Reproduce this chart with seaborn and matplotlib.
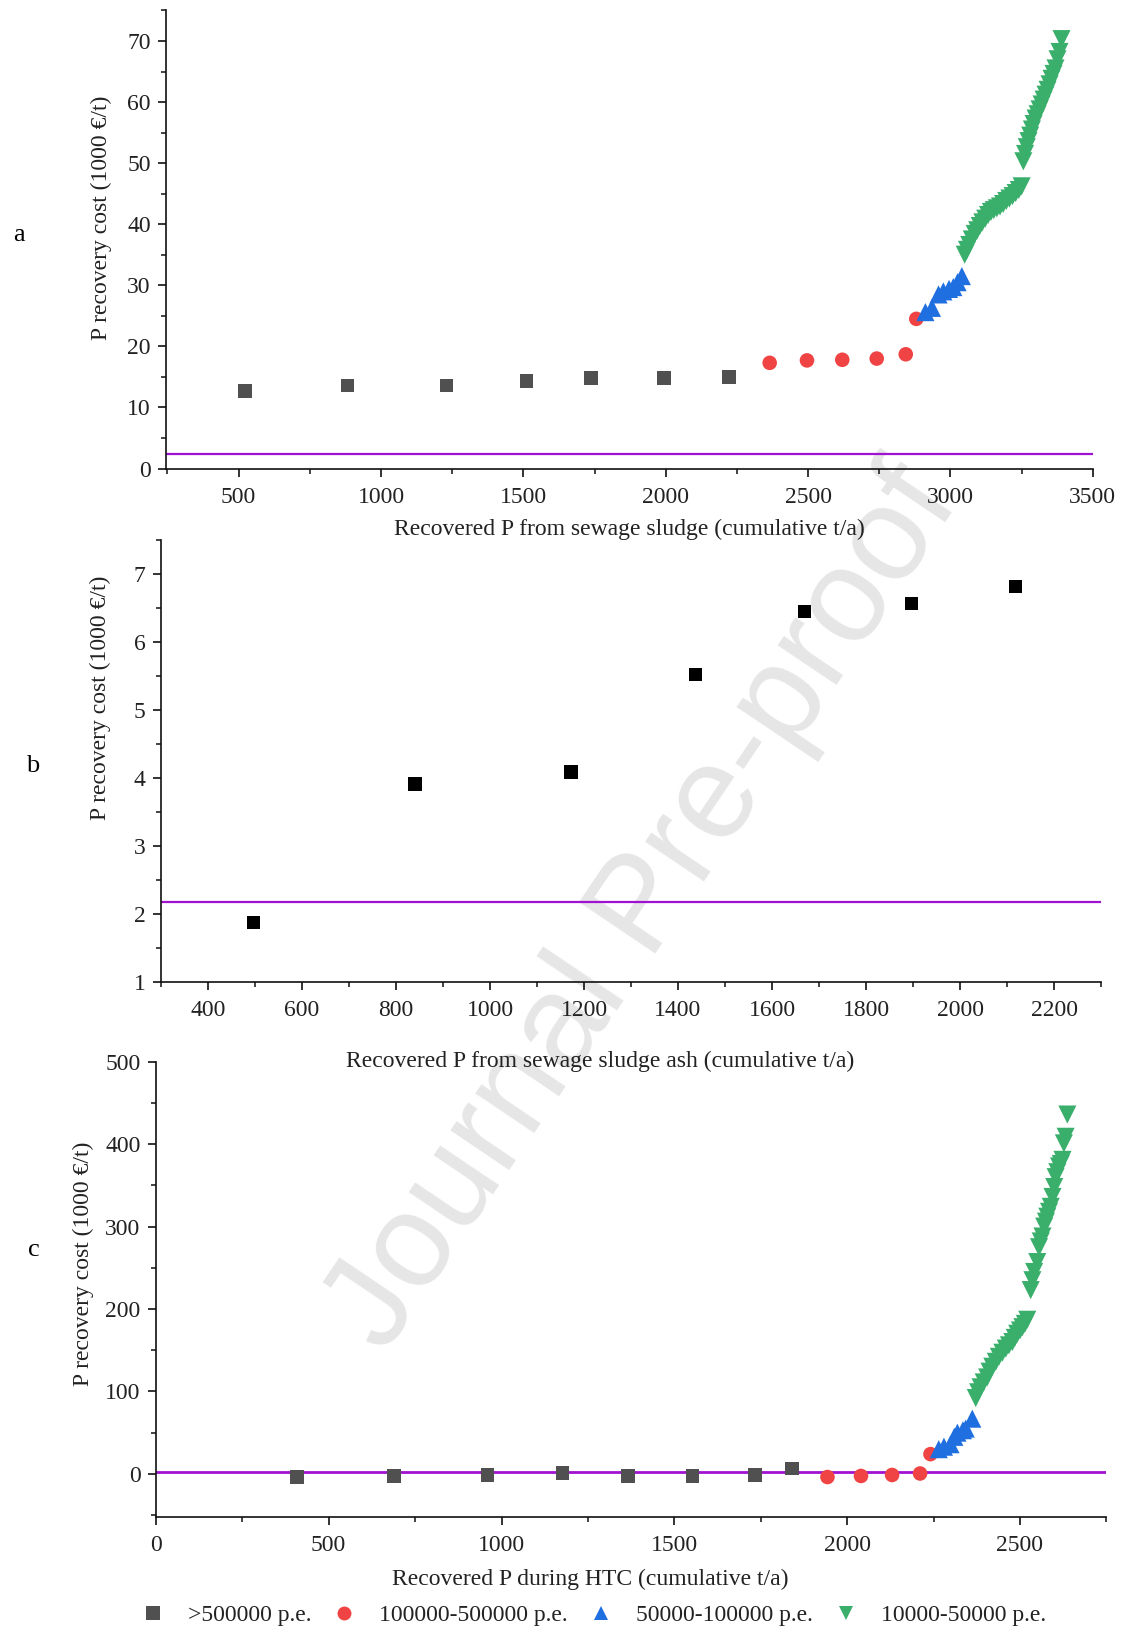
import numpy as np
import pandas as pd
import matplotlib
matplotlib.use('Agg')
import matplotlib.pyplot as plt
from matplotlib.ticker import MultipleLocator
from matplotlib.lines import Line2D
import seaborn as sns

sns.set_style('ticks')
plt.rcParams['font.family'] = ['Liberation Serif', 'DejaVu Serif']

# size classes of the plants
classes = ['>500000 p.e.', '100000-500000 p.e.', '50000-100000 p.e.', '10000-50000 p.e.']

# --- panel a: sewage sludge ---
a_sq_x = [522, 883, 1230, 1511, 1737, 1993, 2223]
a_sq_y = [12.7, 13.6, 13.6, 14.3, 14.8, 14.8, 15.0]
a_red_x = [2365, 2496, 2620, 2741, 2843, 2880]
a_red_y = [17.3, 17.7, 17.8, 18.0, 18.7, 24.5]
a_blue_x = [2912, 2935, 2958, 2975, 2995, 3010, 3025, 3040]
a_blue_y = [25.6, 26.3, 28.5, 29.0, 29.4, 29.7, 30.5, 31.5]
a_green_x = [3050, 3058, 3066, 3075, 3085, 3094, 3103, 3112, 3122, 3132, 3142,
             3152, 3163, 3174, 3185, 3196, 3207, 3218, 3229, 3240, 3250, 3256,
             3262, 3268, 3274, 3280, 3286, 3292, 3299, 3306, 3313, 3320, 3327,
             3334, 3341, 3348, 3355, 3362, 3369, 3376, 3383, 3390]
a_green_y = [35.0, 35.8, 36.6, 37.5, 38.4, 39.0, 39.7, 40.3, 40.9, 41.5, 42.0,
             42.3, 42.6, 42.9, 43.3, 43.8, 44.2, 44.6, 45.1, 45.6, 46.2, 50.3,
             51.5, 52.6, 53.6, 54.5, 55.5, 56.4, 57.3, 58.0, 58.8, 59.6, 60.4,
             61.2, 62.0, 62.9, 63.8, 64.6, 65.5, 67.0, 68.2, 70.3]
a_limit = 2.4

# --- panel b: sewage sludge ash ---
b_x = [497, 840, 1172, 1437, 1669, 1897, 2118]
b_y = [1.87, 3.91, 4.09, 5.52, 6.45, 6.57, 6.82]
b_limit = 2.18

# --- panel c: HTC ---
c_sq_x = [409, 689, 960, 1176, 1366, 1552, 1733, 1841]
c_sq_y = [-3.8, -2.5, -1.3, 1.3, -2.5, -2.5, -1.3, 6.3]
c_red_x = [1943, 2040, 2130, 2211, 2241]
c_red_y = [-3.8, -2.5, -1.3, 0.5, 24]
c_blue_x = [2265, 2280, 2299, 2310, 2319, 2335, 2343, 2362]
c_blue_y = [30, 33, 36, 45, 50, 53, 55, 67]
c_green_x = [2372, 2379, 2386, 2395, 2405, 2412, 2420, 2430, 2439, 2449, 2459,
             2468, 2478, 2485, 2492, 2500, 2507, 2514, 2521, 2531, 2536, 2541,
             2550, 2555, 2560, 2565, 2570, 2575, 2579, 2584, 2589, 2594, 2599,
             2603, 2608, 2613, 2618, 2623, 2627, 2632, 2637]
c_green_y = [92, 99, 105, 111, 117, 124, 130, 136, 142, 147, 152,
             156, 160, 165, 170, 174, 178, 182, 187, 223, 235, 245,
             257, 275, 282, 288, 300, 306, 312, 318, 324, 336, 348,
             360, 366, 373, 376, 381, 401, 409, 436]
c_limit = 2.3

palette = dict(zip(classes, ['#505050', '#f04444', '#1f6fe0', '#3aaf6c']))
markers = dict(zip(classes, ['s', 'o', '^', 'v']))
sizes = dict(zip(classes, [95, 110, 170, 170]))
purple = '#a012d0'
txt = '#222222'


def make_df(xs, ys):
    parts = []
    for cls, x, y in zip(classes, xs, ys):
        parts.append(pd.DataFrame({'x': x, 'y': y, 'cls': cls}))
    return pd.concat(parts, ignore_index=True)


df_a = make_df([a_sq_x, a_red_x, a_blue_x, a_green_x], [a_sq_y, a_red_y, a_blue_y, a_green_y])
df_c = make_df([c_sq_x, c_red_x, c_blue_x, c_green_x], [c_sq_y, c_red_y, c_blue_y, c_green_y])
df_b = pd.DataFrame({'x': b_x, 'y': b_y})

fig = plt.figure(figsize=(11.22, 16.29), dpi=100)
ax_a = fig.add_axes([0.148, 0.7124, 0.826, 0.2812])
ax_b = fig.add_axes([0.1435, 0.3973, 0.8378, 0.2711])
ax_c = fig.add_axes([0.1389, 0.0689, 0.8472, 0.2793])

for ax, df in [(ax_a, df_a), (ax_c, df_c)]:
    sns.scatterplot(data=df, x='x', y='y', hue='cls', style='cls', size='cls',
                    palette=palette, markers=markers, sizes=sizes,
                    hue_order=classes, style_order=classes, size_order=classes,
                    edgecolor='none', linewidth=0, legend=False, ax=ax, zorder=3)

sns.scatterplot(data=df_b, x='x', y='y', marker='s', color='black', s=95,
                edgecolor='none', linewidth=0, ax=ax_b, zorder=3)

ax_a.axhline(a_limit, color=purple, lw=1.6, zorder=2)
ax_b.axhline(b_limit, color=purple, lw=1.6, zorder=2)
ax_c.axhline(c_limit, color=purple, lw=2.0, zorder=2)

ax_a.set_xlim(245, 3500)
ax_a.set_ylim(0, 75)
ax_a.xaxis.set_major_locator(MultipleLocator(500))
ax_a.xaxis.set_minor_locator(MultipleLocator(250))
ax_a.yaxis.set_major_locator(MultipleLocator(10))
ax_a.yaxis.set_minor_locator(MultipleLocator(5))

ax_b.set_xlim(300, 2300)
ax_b.set_ylim(1, 7.5)
ax_b.xaxis.set_major_locator(MultipleLocator(200))
ax_b.xaxis.set_minor_locator(MultipleLocator(100))
ax_b.yaxis.set_major_locator(MultipleLocator(1))
ax_b.yaxis.set_minor_locator(MultipleLocator(0.5))

ax_c.set_xlim(0, 2750)
ax_c.set_ylim(-52, 500)
ax_c.xaxis.set_major_locator(MultipleLocator(500))
ax_c.xaxis.set_minor_locator(MultipleLocator(250))
ax_c.yaxis.set_major_locator(MultipleLocator(100))
ax_c.yaxis.set_minor_locator(MultipleLocator(50))

xlabels = ['Recovered P from sewage sludge (cumulative t/a)',
           'Recovered P from sewage sludge ash (cumulative t/a)',
           'Recovered P during HTC (cumulative t/a)']
xlab_pos = [(0.5, -0.132), (0.4676, -0.181), (0.4568, -0.137)]
ylab_pos = [(-0.070, 0.547), (-0.064, 0.644), (-0.0765, 0.557)]

for ax, xl, xp, yp in zip([ax_a, ax_b, ax_c], xlabels, xlab_pos, ylab_pos):
    ax.set_facecolor('none')
    sns.despine(ax=ax)
    for s in ['left', 'bottom']:
        ax.spines[s].set_linewidth(1.2)
        ax.spines[s].set_color('#111111')
    ax.tick_params(which='major', direction='out', length=6, width=1.2,
                   labelsize=17, labelcolor=txt, color='#111111')
    ax.tick_params(axis='x', which='major', pad=7)
    ax.tick_params(axis='y', which='major', pad=5)
    ax.tick_params(which='minor', direction='out', length=3.5, width=1.1,
                   color='#111111')
    ax.set_xlabel(xl, fontsize=17, color=txt)
    ax.set_ylabel('P recovery cost (1000 €/t)', fontsize=17, color=txt)
    ax.xaxis.label.set_verticalalignment('center')
    ax.yaxis.label.set_verticalalignment('center')
    ax.xaxis.set_label_coords(*xp)
    ax.yaxis.set_label_coords(*yp)

# panel letters
fig.text(0.0115, 0.856, 'a', fontsize=19, color='black', va='center')
fig.text(0.0235, 0.530, 'b', fontsize=19, color='black', va='center')
fig.text(0.0250, 0.2327, 'c', fontsize=19, color='black', va='center')

# watermark
fig.text(0.574, 0.442, 'Journal Pre-proof', rotation=56, fontsize=96,
         color='#e6e6e6', ha='center', va='center', zorder=-1,
         family=['Liberation Sans', 'DejaVu Sans'])

handles = [Line2D([], [], ls='none', marker=markers[c], color=palette[c],
                  markersize=10, markeredgewidth=0) for c in classes]
fig.legend(handles, classes, loc='center left', bbox_to_anchor=(0.109, 0.0083),
           ncol=4, frameon=False, fontsize=17, handlelength=0.8,
           handletextpad=1.08, columnspacing=1.0, labelcolor=txt)

fig.savefig('out.png', dpi=100)
